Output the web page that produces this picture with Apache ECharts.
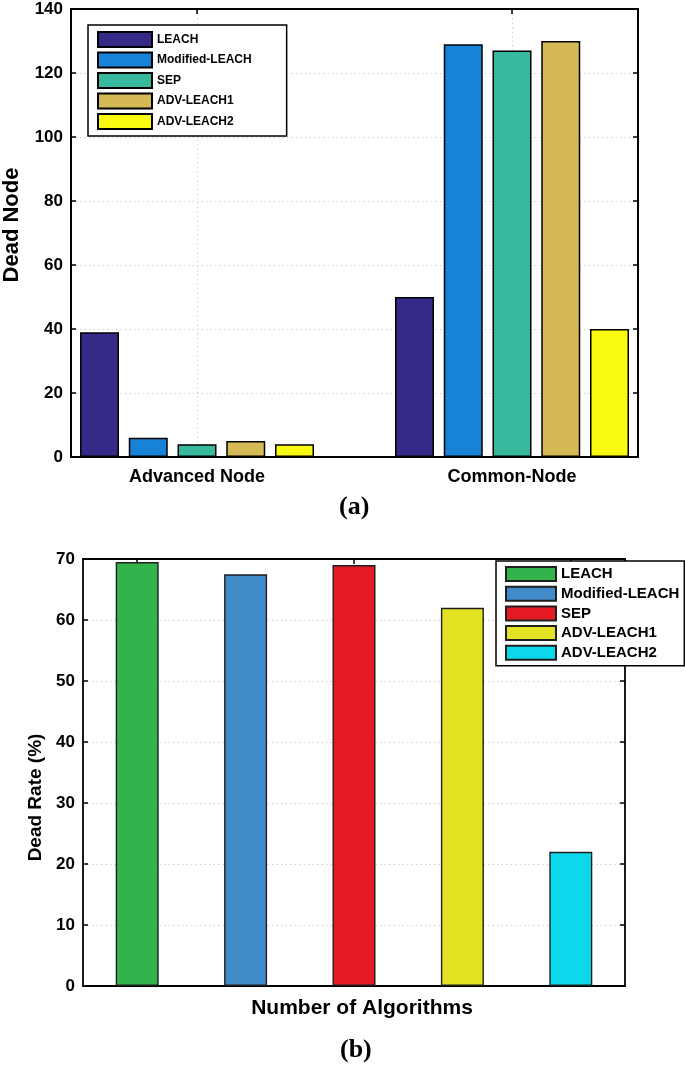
<!DOCTYPE html>
<html>
<head>
<meta charset="utf-8">
<script src="https://cdn.jsdelivr.net/npm/echarts@6/dist/echarts.min.js"></script>
<style>
html,body{margin:0;padding:0;background:#fff;}
#chart{width:685px;height:1065px;}
</style>
</head>
<body>
<div id="chart"></div>
<script>
// ---- data ----
const groupNames = ['Advanced Node', 'Common-Node'];
const groupPositions = [1, 2];
const algorithms = ['LEACH', 'Modified-LEACH', 'SEP', 'ADV-LEACH1', 'ADV-LEACH2'];
const deadAdvanced = [39, 6, 4, 5, 4];
const deadCommon = [50, 129, 127, 130, 40];
const deadRate = [69.5, 67.5, 69, 62, 22];
const yTicksA = [0, 20, 40, 60, 80, 100, 120, 140];
const yTicksB = [0, 10, 20, 30, 40, 50, 60, 70];
const colorsA = ['#352a87', '#1782d6', '#38b99d', '#d6b957', '#f8fa0f'];
const colorsB = ['#33b34b', '#418bc8', '#e41b24', '#e3e323', '#0bd8eb'];

const FONT = '"Liberation Sans", Arial, sans-serif';
const SERIF = '"Liberation Serif", "Times New Roman", serif';

const chart = echarts.init(document.getElementById('chart'), null, {renderer: 'canvas'});

const dotted = {show: true, lineStyle: {color: '#cfcfcf', width: 1, type: [1.5, 3]}};
const axisLineStyle = {show: true, onZero: false, lineStyle: {color: '#000', width: 2}};
const tickIn = {show: true, inside: true, length: 5, lineStyle: {color: '#000', width: 1.5}};
const tickLabel = {fontFamily: FONT, fontWeight: 'bold', fontSize: 17, color: '#000', margin: 8};

const seriesA = algorithms.map((name, i) => ({
  name: 'a:' + name,
  type: 'bar',
  xAxisIndex: 0, yAxisIndex: 0,
  barWidth: 39,
  barGap: '25%',
  itemStyle: {color: colorsA[i], borderColor: '#000', borderWidth: 1.5},
  data: [[groupPositions[0], deadAdvanced[i]], [groupPositions[1], deadCommon[i]]]
}));

const seriesB = algorithms.map((name, i) => ({
  name: 'b:' + name,
  type: 'bar',
  xAxisIndex: 2, yAxisIndex: 2,
  barWidth: 43,
  barGap: '-100%',
  itemStyle: {color: colorsB[i], borderColor: '#1e1e1e', borderWidth: 1.4},
  data: algorithms.map((_, j) => (j === i ? deadRate[i] : '-'))
}));

const option = {
  backgroundColor: '#fff',
  animation: false,
  grid: [
    {left: 71, top: 9, width: 567, height: 448, containLabel: false, outerBoundsMode: 'none'},
    {left: 83, top: 559, width: 542, height: 427, containLabel: false, outerBoundsMode: 'none'}
  ],
  xAxis: [
    { // (a) bottom
      gridIndex: 0, type: 'value', min: 0.6, max: 2.4, position: 'bottom',
      axisLine: axisLineStyle,
      axisTick: Object.assign({}, tickIn, {customValues: groupPositions}),
      axisLabel: Object.assign({}, tickLabel, {fontSize: 18, margin: 11, customValues: groupPositions,
        formatter: v => groupNames[groupPositions.indexOf(v)] || ''}),
      splitLine: dotted
    },
    { // (a) top
      gridIndex: 0, type: 'value', min: 0.6, max: 2.4, position: 'top',
      axisLine: axisLineStyle,
      axisTick: Object.assign({}, tickIn, {customValues: groupPositions}),
      axisLabel: {show: false},
      splitLine: {show: false}
    },
    { // (b) bottom
      gridIndex: 1, type: 'category', data: algorithms, position: 'bottom',
      axisLine: Object.assign({}, axisLineStyle, {lineStyle: {color: '#000', width: 1.8}}),
      axisTick: Object.assign({}, tickIn, {alignWithLabel: true}),
      axisLabel: {show: false},
      splitLine: {show: false},
      name: 'Number of Algorithms',
      nameLocation: 'middle',
      nameGap: 12,
      nameTextStyle: {fontFamily: FONT, fontWeight: 'bold', fontSize: 21, color: '#000', padding: [0, 0, 0, 16]}
    },
    { // (b) top
      gridIndex: 1, type: 'category', data: algorithms, position: 'top',
      axisLine: Object.assign({}, axisLineStyle, {lineStyle: {color: '#000', width: 1.8}}),
      axisTick: Object.assign({}, tickIn, {alignWithLabel: true}),
      axisLabel: {show: false},
      splitLine: {show: false}
    }
  ],
  yAxis: [
    { // (a) left
      gridIndex: 0, type: 'value', min: yTicksA[0], max: yTicksA[yTicksA.length - 1],
      interval: yTicksA[1] - yTicksA[0], position: 'left',
      axisLine: axisLineStyle, axisTick: tickIn, axisLabel: tickLabel,
      splitLine: dotted,
      name: 'Dead Node', nameLocation: 'middle', nameRotate: 90, nameGap: 48,
      nameTextStyle: {fontFamily: FONT, fontWeight: 'bold', fontSize: 22, color: '#000', padding: [0, 0, 0, 16]}
    },
    { // (a) right
      gridIndex: 0, type: 'value', min: yTicksA[0], max: yTicksA[yTicksA.length - 1],
      interval: yTicksA[1] - yTicksA[0], position: 'right',
      axisLine: axisLineStyle, axisTick: tickIn, axisLabel: {show: false},
      splitLine: {show: false}
    },
    { // (b) left
      gridIndex: 1, type: 'value', min: yTicksB[0], max: yTicksB[yTicksB.length - 1],
      interval: yTicksB[1] - yTicksB[0], position: 'left',
      axisLine: Object.assign({}, axisLineStyle, {lineStyle: {color: '#000', width: 1.8}}),
      axisTick: tickIn, axisLabel: tickLabel,
      splitLine: dotted,
      name: 'Dead Rate (%)', nameLocation: 'middle', nameRotate: 90, nameGap: 32,
      nameTextStyle: {fontFamily: FONT, fontWeight: 'bold', fontSize: 19, color: '#000', padding: [0, 50, 0, 0]}
    },
    { // (b) right
      gridIndex: 1, type: 'value', min: yTicksB[0], max: yTicksB[yTicksB.length - 1],
      interval: yTicksB[1] - yTicksB[0], position: 'right',
      axisLine: Object.assign({}, axisLineStyle, {lineStyle: {color: '#000', width: 1.8}}),
      axisTick: tickIn, axisLabel: {show: false},
      splitLine: {show: false}
    }
  ],
  legend: [
    {
      data: algorithms.map(n => 'a:' + n),
      orient: 'vertical', left: 88, top: 25,
      itemWidth: 54, itemHeight: 15, itemGap: 3.5,
      padding: [6, 35, 6, 9],
      borderColor: '#000', borderWidth: 1.5, backgroundColor: '#fff',
      icon: 'rect',
      formatter: n => n.slice(2),
      textStyle: {fontFamily: FONT, fontWeight: 'bold', fontSize: 12, color: '#000'},
      selectedMode: false
    },
    {
      data: algorithms.map(n => 'b:' + n),
      orient: 'vertical', left: 496, top: 561,
      itemWidth: 50, itemHeight: 14, itemGap: 3.7,
      padding: [5, 5, 5, 9],
      borderColor: '#000', borderWidth: 1.5, backgroundColor: '#fff',
      icon: 'rect',
      formatter: n => n.slice(2),
      textStyle: {fontFamily: FONT, fontWeight: 'bold', fontSize: 15, color: '#000', lineHeight: 14},
      selectedMode: false,
      z: 10
    }
  ],
  graphic: [
    {type: 'text', left: 356 - 17, top: 494, style: {text: '(a)', font: 'bold 26px ' + SERIF, fill: '#000'}},
    {type: 'text', left: 358 - 18, top: 1037, style: {text: '(b)', font: 'bold 26px ' + SERIF, fill: '#000'}}
  ],
  series: seriesA.concat(seriesB)
};

chart.setOption(option);
</script>
</body>
</html>
